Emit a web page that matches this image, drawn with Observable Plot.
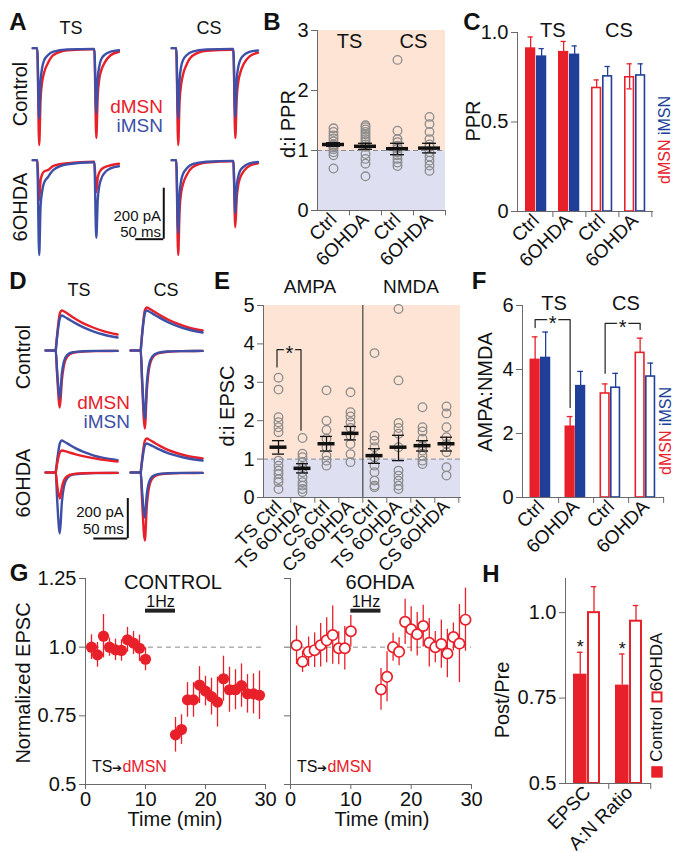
<!DOCTYPE html>
<html><head><meta charset="utf-8">
<script src="https://cdn.jsdelivr.net/npm/d3@7"></script>
<script src="https://cdn.jsdelivr.net/npm/@observablehq/plot@0.6"></script>
<style>
body{margin:0;background:#fff;}
#root{position:relative;width:682px;height:853px;overflow:hidden;background:#fff;font-family:"Liberation Sans",Arial,Helvetica,sans-serif;color:#111;}
.lbl{position:absolute;white-space:nowrap;line-height:1;}
.pl{position:absolute;}
.sq{display:inline-block;width:11px;height:11px;box-sizing:border-box;border:2px solid #e8202a;vertical-align:-1px;}
.sq.f{background:#e8202a;}
.sq.o{background:#fff;}
</style></head><body><div id="root"></div><script>
// ================= DATA =================
// Panel A: paired-pulse EPSC traces (time ms, current pA)
const tA = [0, 8, 11.5, 14, 17, 20, 27, 37, 62, 108, 110, 113.5, 116, 119, 122, 129, 139, 154];
const aTSCtrlRed  = [0, 0, -380, -200, -130, -98, -59, -27, -8, -5, -5, -353, -190, -120, -90, -55, -28, -14];
const aTSCtrlBlue = [0, 0, -275, -130, -75, -50, -28, -14, -5, -3, -3, -255, -120, -70, -45, -25, -14, -8];
const aTS6Red     = [0, 0, -157, -80, -55, -45, -39, -22, -12, -6, -6, -125, -70, -48, -38, -27, -20, -14];
const aTS6Blue    = [0, 0, -372, -180, -120, -90, -67, -38, -16, -8, -8, -305, -160, -100, -75, -48, -32, -24];
const aCSCtrlRed  = [0, 0, -380, -210, -140, -105, -62, -30, -10, -6, -6, -353, -200, -130, -100, -60, -32, -18];
const aCSCtrlBlue = [0, 0, -275, -125, -70, -48, -27, -14, -5, -3, -3, -270, -125, -72, -48, -27, -15, -9];
const aCS6Red     = [0, 0, -372, -200, -125, -95, -57, -28, -9, -5, -5, -263, -150, -95, -70, -42, -22, -12];
const aCS6Blue    = [0, 0, -286, -135, -78, -55, -32, -16, -6, -3, -3, -208, -105, -62, -42, -25, -13, -7];
const aScale = {t0: 184, t1: 234, v0: -110, v1: -310};

// Panel D: AMPA (down) and NMDA (up) EPSC traces
const tAMPA = [-15, 0, 2, 6, 9, 12, 17, 25, 40, 60, 91];
const tNMDA = [0, 3, 6, 9, 12, 18, 28, 40, 55, 70, 91];
const dTSCtrlAmpaRed  = [0, 0, -120, -285, -150, -75, -30, -12, -5, -3, -2];
const dTSCtrlAmpaBlue = [0, 0, -100, -240, -115, -55, -22, -9, -4, -2, -2];
const dTSCtrlNmdaRed  = [0, 110, 185, 200, 196, 183, 160, 137, 115, 97, 80];
const dTSCtrlNmdaBlue = [0, 95, 160, 175, 170, 158, 138, 117, 96, 80, 65];
const dCSCtrlAmpaRed  = [0, 0, -160, -390, -200, -95, -38, -15, -6, -3, -2];
const dCSCtrlAmpaBlue = [0, 0, -140, -340, -165, -75, -30, -12, -5, -3, -2];
const dCSCtrlNmdaRed  = [0, 120, 200, 215, 211, 198, 177, 155, 133, 115, 100];
const dCSCtrlNmdaBlue = [0, 110, 185, 200, 195, 183, 163, 142, 121, 105, 90];
const dTS6AmpaRed  = [0, 0, -60, -130, -75, -40, -18, -8, -4, -2, -2];
const dTS6AmpaBlue = [0, 0, -130, -305, -150, -72, -28, -11, -5, -3, -2];
const dTS6NmdaRed  = [0, 60, 100, 110, 108, 102, 92, 82, 72, 63, 55];
const dTS6NmdaBlue = [0, 85, 145, 160, 155, 143, 123, 104, 86, 73, 62];
const dCS6AmpaRed  = [0, 0, -140, -340, -165, -78, -30, -12, -5, -3, -2];
const dCS6AmpaBlue = [0, 0, -95, -225, -105, -50, -20, -8, -4, -2, -2];
const dCS6NmdaRed  = [0, 95, 158, 170, 165, 153, 133, 113, 95, 81, 70];
const dCS6NmdaBlue = [0, 80, 135, 145, 141, 131, 114, 97, 82, 70, 60];
const dScale = {t0: 56, t1: 106, v0: -130, v1: -330};

// Panel B: d:i PPR
const bCats = ["TS Ctrl", "TS 6OHDA", "CS Ctrl", "CS 6OHDA"];
const bPts = [
  [1.37, 1.31, 1.25, 1.20, 1.15, 1.10, 1.08, 1.05, 1.02, 0.97, 0.92, 0.70],
  [1.42, 1.39, 1.35, 1.31, 1.27, 1.23, 1.19, 1.15, 1.10, 1.06, 0.94, 0.86, 0.78, 0.57],
  [2.51, 1.33, 1.19, 1.14, 1.08, 1.03, 0.97, 0.92, 0.86, 0.80, 0.74],
  [1.56, 1.44, 1.31, 1.19, 1.10, 1.06, 0.97, 0.90, 0.83, 0.75, 0.66]
];
const bMean = [1.10, 1.07, 1.03, 1.04];
const bLo = [1.07, 1.02, 0.93, 0.96];
const bHi = [1.13, 1.12, 1.12, 1.12];
const bGroupLabels = [{c: "TS Ctrl", s: "TS"}, {c: "CS Ctrl", s: "CS"}];

// Panel C: PPR
const cGroups = ["TS Ctrl", "TS 6OHDA", "CS Ctrl", "CS 6OHDA"];
const cFilled = [true, true, false, false];
const cD = [0.91, 0.89, 0.69, 0.75];
const cDhi = [0.975, 0.95, 0.735, 0.825];
const cDlo = [0.91, 0.89, 0.69, 0.685];
const cI = [0.865, 0.875, 0.755, 0.76];
const cIhi = [0.91, 0.925, 0.81, 0.825];

// Panel E: d:i EPSC
const eCats = ["AMPA TS Ctrl", "AMPA TS 6OHDA", "AMPA CS Ctrl", "AMPA CS 6OHDA",
               "NMDA TS Ctrl", "NMDA TS 6OHDA", "NMDA CS Ctrl", "NMDA CS 6OHDA"];
const ePts = [
  [3.12, 2.81, 2.09, 1.96, 1.83, 1.70, 0.96, 0.83, 0.70, 0.61, 0.48, 0.40, 0.22],
  [1.55, 1.14, 1.05, 0.92, 0.79, 0.66, 0.53, 0.40, 0.31, 0.22, 0.14],
  [2.79, 2.00, 1.76, 1.53, 1.31, 1.09, 0.96, 0.83],
  [2.74, 2.22, 2.11, 1.96, 1.81, 1.61, 1.39, 1.13, 0.92],
  [3.76, 1.61, 1.48, 1.31, 1.05, 0.83, 0.66, 0.44, 0.31, 0.27],
  [4.91, 3.05, 1.94, 1.81, 1.66, 1.31, 0.70, 0.57, 0.44, 0.31, 0.22],
  [2.35, 1.83, 1.72, 1.53, 1.35, 1.22, 1.09, 0.96, 0.87],
  [2.37, 2.19, 1.83, 1.57, 1.39, 1.18, 0.79, 0.57]
];
const eMean = [1.31, 0.76, 1.40, 1.67, 1.09, 1.31, 1.35, 1.40];
const eLo = [1.13, 0.64, 1.21, 1.50, 0.89, 0.96, 1.21, 1.21];
const eHi = [1.48, 0.88, 1.59, 1.85, 1.27, 1.62, 1.48, 1.57];
const eBracket = [{c: "AMPA TS Ctrl", y: 3.40}, {c: "AMPA TS Ctrl", y: 3.85}, {c: "AMPA TS 6OHDA", y: 3.85}, {c: "AMPA TS 6OHDA", y: 1.75}];

// Panel F: AMPA:NMDA
const fGroups = ["TS Ctrl", "TS 6OHDA", "CS Ctrl", "CS 6OHDA"];
const fFilled = [true, true, false, false];
const fD = [4.30, 2.21, 3.25, 4.52];
const fDhi = [5.02, 2.53, 3.55, 4.98];
const fI = [4.36, 3.48, 3.43, 3.78];
const fIhi = [5.17, 3.94, 3.88, 4.20];
const fBracketTS = [{g: "TS Ctrl", y: 5.31}, {g: "TS Ctrl", y: 5.56}, {g: "TS 6OHDA", y: 5.56}, {g: "TS 6OHDA", y: 2.81}];
const fBracketCS = [{g: "CS Ctrl", y: 3.88}, {g: "CS Ctrl", y: 5.44}, {g: "CS 6OHDA", y: 5.44}, {g: "CS 6OHDA", y: 5.25}];

// Panel G: normalized EPSC time course
const gT = [1,2,3,4,5,6,7,8,9,10,15,16,17,18,19,20,21,22,23,24,25,26,27,28,29];
const gCtrl = [1.00,0.972,1.04,1.00,0.99,0.988,1.027,1.015,0.996,0.956,0.681,0.70,0.808,0.808,0.862,0.84,0.82,0.80,0.885,0.845,0.845,0.86,0.83,0.83,0.825];
const gCtrlErr = [0.045,0.045,0.079,0.033,0.039,0.039,0.045,0.042,0.048,0.042,0.063,0.054,0.063,0.063,0.067,0.054,0.067,0.091,0.082,0.082,0.073,0.079,0.07,0.073,0.088];
const g6 = [1.007,0.947,0.983,0.989,1.007,1.025,1.044,0.996,0.996,1.058,0.846,0.892,1.0,0.983,1.092,1.065,1.047,1.077,1.016,1.0,1.011,0.977,1.037,1.013,1.10];
const g6Err = [0.07,0.039,0.054,0.063,0.079,0.082,0.106,0.06,0.079,0.057,0.076,0.091,0.051,0.051,0.082,0.082,0.079,0.076,0.088,0.057,0.088,0.088,0.051,0.142,0.115];
const gStim = [{x1: 10, x2: 15}];

// Panel H: Post/Pre
const hCats = ["EPSC", "A:N Ratio"];
const hCtrl = [0.82, 0.788];
const hCtrlHi = [0.884, 0.879];
const h6 = [1.0, 0.975];
const h6Hi = [1.076, 1.021];

// ================= HELPERS =================
const RED = "#e8202a", BLUE = "#203f98", TRED = "#e8202a", TBLUE = "#3d4fa6", AX = "#6a6a6a";
const PINK = "#fde4d5", LAV = "#dedff0", PTG = "#8c8c8c";
const FONT = '"Liberation Sans", Arial, Helvetica, sans-serif';
const ST = {fontFamily: FONT, fontSize: "20px", overflow: "visible", background: "transparent", color: "#111", maxWidth: "none"};
const root = document.getElementById("root");
function put(el, left, top) {
  const d = document.createElement("div");
  d.className = "pl"; d.style.left = left + "px"; d.style.top = top + "px";
  d.appendChild(el); root.appendChild(d);
}
function label(html, x, y, o = {}) {
  const d = document.createElement("div");
  d.className = "lbl"; d.innerHTML = html;
  d.style.left = x + "px"; d.style.top = y + "px";
  d.style.fontSize = (o.size || 20) + "px";
  if (o.bold) d.style.fontWeight = "bold";
  if (o.color) d.style.color = o.color;
  const tx = o.anchor === "r" ? "-100%" : o.anchor === "l" ? "0" : "-50%";
  d.style.transform = `translate(${tx},-50%)` + (o.rot ? ` rotate(${o.rot}deg)` : "");
  root.appendChild(d);
}
const rows = (t, v) => t.map((x, i) => ({t: x, v: v[i]}));
function traces(list) {
  return list.map(([t, v, c]) => Plot.line(rows(t, v), {x: "t", y: "v", stroke: c, strokeWidth: 2.4, curve: "monotone-x"}));
}
function tracePlot({x0, y0, msPx, pAPx, t0, t1, v0, v1, marks}) {
  const width = (t1 - t0) / msPx, height = (v1 - v0) / pAPx;
  const p = Plot.plot({width, height, margin: 0, x: {domain: [t0, t1], axis: null}, y: {domain: [v0, v1], axis: null}, style: ST, marks});
  put(p, x0 + t0 / msPx, y0 - v1 / pAPx);
}
function scaleBarMarks(s, tx, y1, y2) {
  return [
    Plot.ruleX([s.t1], {y1: s.v0, y2: s.v1, stroke: "#111", strokeWidth: 2}),
    Plot.ruleY([s.v1], {x1: s.t0, x2: s.t1, stroke: "#111", strokeWidth: 2}),
    Plot.text(["200 pA"], {x: tx, y: y1, textAnchor: "end", fontSize: 15}),
    Plot.text(["50 ms"], {x: tx, y: y2, textAnchor: "end", fontSize: 15})
  ];
}

// ================= PANEL A =================
const msA = 50 / 28, pAA = 200 / 51;
tracePlot({x0: 32, y0: 48, msPx: msA, pAPx: pAA, t0: -4, t1: 160, v0: -420, v1: 30,
  marks: traces([[tA, aTSCtrlRed, TRED], [tA, aTSCtrlBlue, TBLUE]])});
tracePlot({x0: 171, y0: 48, msPx: msA, pAPx: pAA, t0: -4, t1: 160, v0: -420, v1: 30,
  marks: traces([[tA, aCSCtrlRed, TRED], [tA, aCSCtrlBlue, TBLUE]])});
tracePlot({x0: 32, y0: 160, msPx: msA, pAPx: pAA, t0: -4, t1: 240, v0: -420, v1: 30,
  marks: [...traces([[tA, aTS6Red, TRED], [tA, aTS6Blue, TBLUE]]), ...scaleBarMarks(aScale, 229, -221, -284)]});
tracePlot({x0: 171, y0: 160, msPx: msA, pAPx: pAA, t0: -4, t1: 160, v0: -420, v1: 30,
  marks: traces([[tA, aCS6Red, TRED], [tA, aCS6Blue, TBLUE]])});

// ================= PANEL D =================
const msD = 50 / 34, pAD = 5;
tracePlot({x0: 55, y0: 350, msPx: msD, pAPx: pAD, t0: -18, t1: 95, v0: -420, v1: 240,
  marks: traces([[tAMPA, dTSCtrlAmpaRed, TRED], [tNMDA, dTSCtrlNmdaRed, TRED], [tAMPA, dTSCtrlAmpaBlue, TBLUE], [tNMDA, dTSCtrlNmdaBlue, TBLUE]])});
tracePlot({x0: 140, y0: 350, msPx: msD, pAPx: pAD, t0: -18, t1: 95, v0: -420, v1: 240,
  marks: traces([[tAMPA, dCSCtrlAmpaRed, TRED], [tNMDA, dCSCtrlNmdaRed, TRED], [tAMPA, dCSCtrlAmpaBlue, TBLUE], [tNMDA, dCSCtrlNmdaBlue, TBLUE]])});
tracePlot({x0: 55, y0: 472, msPx: msD, pAPx: pAD, t0: -18, t1: 110, v0: -420, v1: 240,
  marks: [...traces([[tAMPA, dTS6AmpaBlue, TBLUE], [tNMDA, dTS6NmdaBlue, TBLUE], [tAMPA, dTS6AmpaRed, TRED], [tNMDA, dTS6NmdaRed, TRED]]), ...scaleBarMarks(dScale, 100, -198, -282)]});
tracePlot({x0: 140, y0: 472, msPx: msD, pAPx: pAD, t0: -18, t1: 95, v0: -420, v1: 240,
  marks: traces([[tAMPA, dCS6AmpaRed, TRED], [tNMDA, dCS6NmdaRed, TRED], [tAMPA, dCS6AmpaBlue, TBLUE], [tNMDA, dCS6NmdaBlue, TBLUE]])});

// ================= PANEL B =================
{
  const bw = 128 / 4;
  const pts = bCats.flatMap((c, i) => bPts[i].map(v => ({c, v})));
  const st = bCats.map((c, i) => ({c, m: bMean[i], lo: bLo[i], hi: bHi[i]}));
  const p = Plot.plot({
    width: 190, height: 290, marginLeft: 55, marginRight: 7, marginTop: 30, marginBottom: 80,
    x: {type: "band", domain: bCats, padding: 0, label: null}, y: {domain: [0, 3], label: null}, style: ST,
    marks: [
      Plot.rect([{a: 1, b: 3}], {y1: "a", y2: "b", fill: PINK}),
      Plot.rect([{a: 0, b: 1}], {y1: "a", y2: "b", fill: LAV}),
      Plot.ruleY([1], {stroke: "#8a8a8a", strokeDasharray: "5,3"}),
      Plot.dot(pts, {x: "c", y: "v", r: 4.3, stroke: PTG, strokeWidth: 1.3, fill: "none"}),
      Plot.ruleX(st, {x: "c", y1: "lo", y2: "hi", stroke: "#111", strokeWidth: 1.3}),
      Plot.tickY(st, {x: "c", y: "lo", insetLeft: 9, insetRight: 9, stroke: "#111", strokeWidth: 1.3}),
      Plot.tickY(st, {x: "c", y: "hi", insetLeft: 9, insetRight: 9, stroke: "#111", strokeWidth: 1.3}),
      Plot.tickY(st, {x: "c", y: "m", insetLeft: 5, insetRight: 5, stroke: "#111", strokeWidth: 3.5}),
      Plot.text(bGroupLabels, {x: "c", y: () => 2.82, text: "s", dx: bw / 2, fontSize: 20}),
      Plot.frame({anchor: "left", stroke: AX}),
      Plot.frame({anchor: "bottom", stroke: AX}),
      Plot.ruleX(bCats, {x: d => d, dx: bw / 2, y1: 0, y2: -0.09, stroke: AX}),
      Plot.axisY({ticks: [0, 1, 2, 3], tickFormat: d3.format("d"), tickSize: 6, tickPadding: 3, stroke: AX, label: null}),
      Plot.axisX({tickSize: 0, tickPadding: 6, tickRotate: -45, tickFormat: c => c.split(" ")[1], fontSize: 19, label: null})
    ]
  });
  put(p, 262, 0);
}

// ================= bar pair helper (C, F) =================
function pairBars(groups, filled, dv, dhi, dlo, iv, ihi, bw, p, w, yOpt, yTicks, yFmt, extra, size) {
  const red = groups.map((g, i) => ({g, v: dv[i], hi: dhi[i], lo: dlo ? dlo[i] : dv[i], f: filled[i]}));
  const blue = groups.map((g, i) => ({g, v: iv[i], hi: ihi[i], lo: iv[i], f: filled[i]}));
  const rc = p + w / 2, bc = p + 1.5 * w, cap = 3;
  const tickLen = 6 * (yOpt.domain[1] - yOpt.domain[0]) / size.plotH;
  return Plot.plot({
    width: size.width, height: size.height, marginLeft: size.ml, marginRight: size.mr, marginTop: size.mt, marginBottom: size.mb,
    x: {type: "band", domain: groups, padding: 0, label: null}, y: {...yOpt, label: null}, style: ST,
    marks: [
      Plot.barY(red, {x: "g", y: "v", fill: d => d.f ? RED : "white", stroke: RED, strokeWidth: 1.6, insetLeft: p + 0.8, insetRight: bw - p - w + 0.8}),
      Plot.barY(blue, {x: "g", y: "v", fill: d => d.f ? BLUE : "white", stroke: BLUE, strokeWidth: 1.6, insetLeft: p + w + 0.8, insetRight: bw - p - 2 * w + 0.8}),
      Plot.ruleX(red, {x: "g", y1: "lo", y2: "hi", dx: rc - bw / 2, stroke: RED, strokeWidth: 1.3}),
      Plot.ruleX(blue, {x: "g", y1: "lo", y2: "hi", dx: bc - bw / 2, stroke: BLUE, strokeWidth: 1.3}),
      Plot.tickY(red, {x: "g", y: "hi", insetLeft: rc - cap, insetRight: bw - rc - cap, stroke: RED, strokeWidth: 1.3}),
      Plot.tickY(red.filter(d => d.lo < d.v), {x: "g", y: "lo", insetLeft: rc - cap, insetRight: bw - rc - cap, stroke: RED, strokeWidth: 1.3}),
      Plot.tickY(blue, {x: "g", y: "hi", insetLeft: bc - cap, insetRight: bw - bc - cap, stroke: BLUE, strokeWidth: 1.3}),
      ...extra(rc, bc),
      Plot.frame({anchor: "left", stroke: AX}),
      Plot.frame({anchor: "bottom", stroke: AX}),
      Plot.ruleX(groups, {x: d => d, dx: bw / 2, y1: yOpt.domain[0], y2: yOpt.domain[0] - tickLen, stroke: AX}),
      Plot.axisY({ticks: yTicks, tickFormat: yFmt, tickSize: 6, tickPadding: 3, stroke: AX, label: null}),
      Plot.axisX({tickSize: 0, tickPadding: 6, tickRotate: -45, tickFormat: c => c.split(" ")[1], fontSize: 19, label: null})
    ]
  });
}

// ================= PANEL C =================
{
  const bw = 135 / 4;
  const p = pairBars(cGroups, cFilled, cD, cDhi, cDlo, cI, cIhi, bw, 6, 11,
    {domain: [0, 1]}, [0, 0.5, 1], d => d === 0 ? "0" : d.toFixed(1),
    () => [Plot.text([{g: "TS Ctrl", s: "TS"}, {g: "CS Ctrl", s: "CS"}], {x: "g", y: () => 1.01, text: "s", dx: bw / 2, fontSize: 20})],
    {width: 200, height: 290, ml: 57, mr: 8, mt: 32, mb: 79, plotH: 179});
  put(p, 460, 0);
}

// ================= PANEL E =================
{
  const bw = 197 / 8;
  const pts = eCats.flatMap((c, i) => ePts[i].map(v => ({c, v})));
  const st = eCats.map((c, i) => ({c, m: eMean[i], lo: eLo[i], hi: eHi[i]}));
  const p = Plot.plot({
    width: 262, height: 290, marginLeft: 58, marginRight: 7, marginTop: 15, marginBottom: 83,
    x: {type: "band", domain: eCats, padding: 0, label: null}, y: {domain: [0, 5], label: null}, style: ST,
    marks: [
      Plot.rect([{a: 1, b: 5}], {y1: "a", y2: "b", fill: PINK}),
      Plot.rect([{a: 0, b: 1}], {y1: "a", y2: "b", fill: LAV}),
      Plot.ruleY([1], {stroke: "#8a8a8a", strokeDasharray: "5,3"}),
      Plot.ruleX(["AMPA CS 6OHDA"], {x: d => d, dx: bw / 2, y1: 0, y2: 5, stroke: "#444", strokeWidth: 1.2}),
      Plot.dot(pts, {x: "c", y: "v", r: 4.3, stroke: PTG, strokeWidth: 1.3, fill: "none"}),
      Plot.ruleX(st, {x: "c", y1: "lo", y2: "hi", stroke: "#111", strokeWidth: 1.3}),
      Plot.tickY(st, {x: "c", y: "lo", insetLeft: 6, insetRight: 6, stroke: "#111", strokeWidth: 1.3}),
      Plot.tickY(st, {x: "c", y: "hi", insetLeft: 6, insetRight: 6, stroke: "#111", strokeWidth: 1.3}),
      Plot.tickY(st, {x: "c", y: "m", insetLeft: 3.5, insetRight: 3.5, stroke: "#111", strokeWidth: 3.5}),
      Plot.line(eBracket, {x: "c", y: "y", dx: -1.5, stroke: "#222", strokeWidth: 1.2}),
      Plot.text(["*"], {x: () => "AMPA TS Ctrl", y: () => 3.75, dx: bw / 2 - 1.5, fontSize: 20, stroke: PINK, strokeWidth: 4, fill: "#111"}),
      Plot.frame({anchor: "left", stroke: AX}),
      Plot.frame({anchor: "bottom", stroke: AX}),
      Plot.ruleX(eCats, {x: d => d, dx: bw / 2, y1: 0, y2: -0.15, stroke: AX}),
      Plot.axisY({ticks: [0, 1, 2, 3, 4, 5], tickFormat: d3.format("d"), tickSize: 6, tickPadding: 3, stroke: AX, label: null}),
      Plot.axisX({tickSize: 0, tickPadding: 6, tickRotate: -45, tickFormat: c => c.slice(5), fontSize: 18, label: null})
    ]
  });
  put(p, 205, 290);
}

// ================= PANEL F =================
{
  const bw = 141 / 4;
  const p = pairBars(fGroups, fFilled, fD, fDhi, null, fI, fIhi, bw, 6.5, 10.5,
    {domain: [0, 6]}, [0, 2, 4, 6], d3.format("d"),
    (rc) => [
      Plot.line(fBracketTS, {x: "g", y: "y", dx: rc - bw / 2, stroke: "#222", strokeWidth: 1.2}),
      Plot.line(fBracketCS, {x: "g", y: "y", dx: rc - bw / 2, stroke: "#222", strokeWidth: 1.2}),
      Plot.text(["*"], {x: () => "TS Ctrl", y: () => 5.44, dx: rc, fontSize: 20, stroke: "white", strokeWidth: 4, fill: "#111"}),
      Plot.text(["*"], {x: () => "CS Ctrl", y: () => 5.32, dx: rc, fontSize: 20, stroke: "white", strokeWidth: 4, fill: "#111"})
    ],
    {width: 215, height: 290, ml: 60, mr: 14, mt: 15, mb: 83, plotH: 192});
  put(p, 462, 290);
}

// ================= PANEL G =================
function gPlot(vals, errs, filled, opts) {
  const d = gT.map((t, i) => ({t, v: vals[i], e: errs[i]}));
  return Plot.plot({
    width: opts.width, height: 293, marginLeft: opts.ml, marginRight: opts.mr, marginTop: 18, marginBottom: 69,
    x: {domain: [0, 30], label: null}, y: {domain: [0.5, 1.25], label: null}, style: ST,
    marks: [
      Plot.ruleY([1], {stroke: "#8a8a8a", strokeDasharray: "5,4"}),
      Plot.ruleX(d, {x: "t", y1: r => r.v - r.e, y2: r => r.v + r.e, stroke: RED, strokeWidth: 1.3}),
      Plot.dot(d, {x: "t", y: "v", r: filled ? 5.6 : 5.2, fill: filled ? RED : "white", stroke: RED, strokeWidth: filled ? 0 : 1.7}),
      Plot.ruleY(gStim, {x1: "x1", x2: "x2", y: () => 1.133, stroke: "#222", strokeWidth: 4}),
      Plot.text(gStim, {x: r => (r.x1 + r.x2) / 2, y: () => 1.165, text: () => "1Hz", fontSize: 16}),
      Plot.frame({anchor: "left", stroke: AX}),
      Plot.frame({anchor: "bottom", stroke: AX}),
      Plot.axisY({ticks: [0.5, 0.75, 1, 1.25], tickFormat: opts.yLabels ? (v => ({0.5: "0.5", 0.75: "0.75", 1: "1.0", 1.25: "1.25"})[v]) : (() => ""), tickSize: 6, tickPadding: 3, stroke: AX, label: null}),
      Plot.axisX({ticks: [0, 10, 20, 30], tickFormat: d3.format("d"), tickSize: 5, tickPadding: 2, stroke: AX, label: null})
    ]
  });
}
put(gPlot(gCtrl, gCtrlErr, true, {width: 280, ml: 85, mr: 15, yLabels: true}), 0, 560);
put(gPlot(g6, g6Err, false, {width: 250, ml: 50, mr: 19, yLabels: false}), 240, 560);

// ================= PANEL H =================
{
  const bw = 85 / 2;
  const c = hCats.map((g, i) => ({g, v: hCtrl[i], hi: hCtrlHi[i]}));
  const o = hCats.map((g, i) => ({g, v: h6[i], hi: h6Hi[i]}));
  const cc = 14, oc = 27.75, cap = 3;
  const p = Plot.plot({
    width: 185, height: 293, marginLeft: 85, marginRight: 15, marginTop: 18, marginBottom: 70,
    x: {type: "band", domain: hCats, padding: 0, label: null}, y: {domain: [0.5, 1.1], label: null}, style: ST,
    marks: [
      Plot.barY(c, {x: "g", y1: () => 0.5, y2: "v", fill: RED, insetLeft: 7, insetRight: bw - 21}),
      Plot.barY(o, {x: "g", y1: () => 0.5, y2: "v", fill: "white", stroke: RED, strokeWidth: 2, insetLeft: 22, insetRight: bw - 33.5}),
      Plot.ruleX(c, {x: "g", y1: "v", y2: "hi", dx: cc - bw / 2, stroke: RED, strokeWidth: 1.3}),
      Plot.ruleX(o, {x: "g", y1: "v", y2: "hi", dx: oc - bw / 2, stroke: RED, strokeWidth: 1.3}),
      Plot.tickY(c, {x: "g", y: "hi", insetLeft: cc - cap, insetRight: bw - cc - cap, stroke: RED, strokeWidth: 1.3}),
      Plot.tickY(o, {x: "g", y: "hi", insetLeft: oc - cap, insetRight: bw - oc - cap, stroke: RED, strokeWidth: 1.3}),
      Plot.text(c, {x: "g", y: r => r.hi + 0.015, text: () => "*", dx: cc - bw / 2, fontSize: 18}),
      Plot.frame({anchor: "left", stroke: AX}),
      Plot.frame({anchor: "bottom", stroke: AX}),
      Plot.ruleX(hCats, {x: d => d, dx: bw / 2, y1: 0.5, y2: 0.5 - 6 / 341.7, stroke: AX}),
      Plot.axisY({ticks: [0.5, 0.75, 1], tickFormat: v => ({0.5: "0.5", 0.75: "0.75", 1: "1.0"})[v], tickSize: 6, tickPadding: 3, stroke: AX, label: null}),
      Plot.axisX({tickSize: 0, tickPadding: 6, tickRotate: -45, fontSize: 19, label: null})
    ]
  });
  put(p, 480, 560);
}

// ================= TEXT LABELS =================
[["A", 18, 22], ["B", 272, 22], ["C", 472, 22], ["D", 18, 281], ["E", 222, 281], ["F", 479, 281], ["G", 19, 573], ["H", 491, 574]]
  .forEach(([s, x, y]) => label(s, x, y, {size: 24, bold: true}));
// A
label("TS", 71, 28, {size: 18}); label("CS", 209, 28, {size: 18});
label("Control", 20, 94, {rot: -90}); label("6OHDA", 20, 207, {rot: -90});
label("dMSN", 163, 106, {anchor: "r", color: RED, size: 19}); label("iMSN", 163, 125, {anchor: "r", color: TBLUE, size: 19});
// B, C
label("d:i PPR", 288, 124, {rot: -90});
label("PPR", 473, 121, {rot: -90});
label(`<span style="color:${RED}">dMSN</span> <span style="color:${BLUE}">iMSN</span>`, 665, 140, {rot: -90, size: 16});
// D
label("TS", 79, 290, {size: 18}); label("CS", 166, 290, {size: 18});
label("Control", 23, 357, {rot: -90}); label("6OHDA", 23, 483, {rot: -90});
label("dMSN", 130, 402, {anchor: "r", color: RED, size: 19}); label("iMSN", 130, 421, {anchor: "r", color: TBLUE, size: 19});
// E
label("AMPA", 310, 286, {size: 19}); label("NMDA", 411, 286, {size: 19});
label("d:i EPSC", 227, 406, {rot: -90});
// F
label("TS", 554, 303); label("CS", 626, 303);
label("AMPA:NMDA", 485, 392, {rot: -90});
label(`<span style="color:${RED}">dMSN</span> <span style="color:${BLUE}">iMSN</span>`, 666, 431, {rot: -90, size: 16});
// G
label("CONTROL", 173, 582); label("6OHDA", 380, 582);
label("Normalized EPSC", 23, 683, {rot: -90});
label("Time (min)", 175, 819); label("Time (min)", 382, 819);
const tsd = `TS<span style="font-size:12px">&#10132;</span><span style="color:${RED}">dMSN</span>`;
label(tsd, 92, 767, {anchor: "l", size: 16}); label(tsd, 297, 767, {anchor: "l", size: 16});
// H
label("Post/Pre", 502, 700, {rot: -90});
label(`<span class="sq f"></span> Control <span class="sq o"></span>6OHDA`, 656, 705, {rot: -90, size: 17});
</script></body></html>
